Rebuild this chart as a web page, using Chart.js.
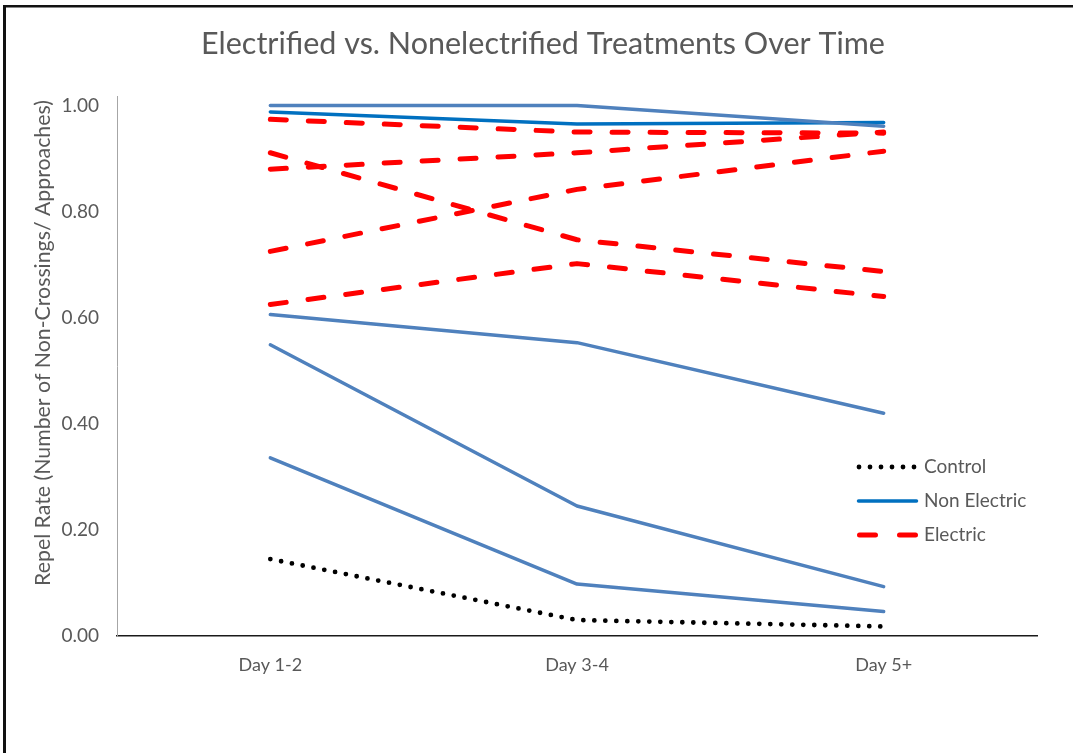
<!DOCTYPE html>
<html>
<head>
<meta charset="utf-8">
<script src="https://cdn.jsdelivr.net/npm/chart.js@4.4.1/dist/chart.umd.min.js"></script>
<style>
  html, body { margin: 0; padding: 0; background: #ffffff; }
  #wrap { position: relative; width: 1073px; height: 753px; }
  canvas { display: block; }
</style>
</head>
<body>
<div id="wrap"><canvas id="c" width="1073" height="753"></canvas></div>
<script>
// Time periods on the x axis
const categories = ['Day 1-2', 'Day 3-4', 'Day 5+'];
// Y tick values
const yTicks = [0, 0.2, 0.4, 0.6, 0.8, 1.0];

// Repel rate per treatment group
const control = [0.145, 0.030, 0.018];
const nonElectricMain = [0.988, 0.965, 0.968];
const nonElectricA = [1.000, 1.000, 0.961];
const nonElectricB = [0.606, 0.553, 0.420];
const nonElectricC = [0.549, 0.245, 0.093];
const nonElectricD = [0.336, 0.098, 0.046];
const electricA = [0.974, 0.950, 0.948];
const electricB = [0.880, 0.911, 0.950];
const electricC = [0.911, 0.747, 0.687];
const electricD = [0.725, 0.842, 0.914];
const electricE = [0.625, 0.702, 0.640];

const legendLabels = ['Control', 'Non Electric', 'Electric'];
const chartTitle = 'Electrified vs. Nonelectrified Treatments Over Time';
const yTitle = 'Repel Rate (Number of Non-Crossings/ Approaches)';

const FONT = 'Lato, "Open Sans", sans-serif';
const TEXT = '#595959';
const BLUE_DARK = '#0070C0';
const BLUE = '#4F81BD';
const RED = '#FF0000';

const styles = {
  control: { borderColor: '#000000', borderWidth: 4.8, borderDash: [0, 11], borderCapStyle: 'round' },
  nonMain: { borderColor: BLUE_DARK, borderWidth: 3.5, borderDash: [], borderCapStyle: 'round' },
  non: { borderColor: BLUE, borderWidth: 3.5, borderDash: [], borderCapStyle: 'round' },
  electric: { borderColor: RED, borderWidth: 5, borderDash: [16, 22], borderCapStyle: 'round' }
};

function series(data, style) {
  return Object.assign({
    data: data,
    fill: false,
    tension: 0,
    pointRadius: 0,
    pointHoverRadius: 0,
    borderJoinStyle: 'round'
  }, style);
}

const datasets = [
  series(nonElectricA, styles.non),
  series(nonElectricB, styles.non),
  series(nonElectricC, styles.non),
  series(nonElectricD, styles.non),
  series(nonElectricMain, styles.nonMain),
  series(electricA, styles.electric),
  series(electricB, styles.electric),
  series(electricC, styles.electric),
  series(electricD, styles.electric),
  series(electricE, styles.electric),
  series(control, styles.control)
];

// White background plus frame lines along the top and left edges
const framePlugin = {
  id: 'frame',
  beforeDraw(chart) {
    const ctx = chart.ctx;
    ctx.save();
    ctx.fillStyle = '#ffffff';
    ctx.fillRect(0, 0, chart.width, chart.height);
    ctx.fillStyle = '#111111';
    ctx.fillRect(3, 5, chart.width - 3, 2.5);
    ctx.fillRect(3, 5, 3, chart.height - 5);
    ctx.restore();
  }
};

// Chart title and rotated y-axis title
const titlesPlugin = {
  id: 'titles',
  afterDraw(chart) {
    const ctx = chart.ctx;
    ctx.save();
    ctx.font = '30.5px ' + FONT;
    ctx.fillStyle = TEXT;
    ctx.textAlign = 'center';
    ctx.textBaseline = 'middle';
    ctx.fillText(chartTitle, 543, 44);

    ctx.translate(43, 343);
    ctx.rotate(-Math.PI / 2);
    ctx.font = '21.3px ' + FONT;
    ctx.fillText(yTitle, 0, 0);
    ctx.restore();
  }
};

// Legend inside the plot area, lower right
const legendPlugin = {
  id: 'insideLegend',
  afterDraw(chart) {
    const ctx = chart.ctx;
    const area = chart.chartArea;
    const x0 = area.right - 180;
    const x1 = x0 + 61;
    const rows = [
      { label: legendLabels[0], style: styles.control, y: area.top + 371 },
      { label: legendLabels[1], style: styles.nonMain, y: area.top + 405 },
      { label: legendLabels[2], style: styles.electric, y: area.top + 439 }
    ];
    ctx.save();
    rows.forEach(r => {
      ctx.beginPath();
      ctx.strokeStyle = r.style.borderColor;
      ctx.lineWidth = r.style.borderWidth;
      ctx.lineCap = r.style.borderCapStyle;
      ctx.setLineDash(r.style.borderDash);
      if (r.style === styles.electric) {
        ctx.setLineDash([]);
        ctx.moveTo(x0 + 2.5, r.y);
        ctx.lineTo(x0 + 18.5, r.y);
        ctx.moveTo(x1 - 18.5, r.y);
        ctx.lineTo(x1 - 2.5, r.y);
      } else if (r.style === styles.control) {
        ctx.moveTo(x0 + 2, r.y);
        ctx.lineTo(x1, r.y);
      } else {
        ctx.moveTo(x0 + 1.5, r.y);
        ctx.lineTo(x1 - 1.5, r.y);
      }
      ctx.stroke();
      ctx.setLineDash([]);
      ctx.font = '19px ' + FONT;
      ctx.fillStyle = TEXT;
      ctx.textAlign = 'left';
      ctx.textBaseline = 'middle';
      ctx.fillText(r.label, x1 + 6, r.y);
    });
    ctx.restore();
  }
};

new Chart(document.getElementById('c'), {
  type: 'line',
  data: { labels: categories, datasets: datasets },
  plugins: [framePlugin, titlesPlugin, legendPlugin],
  options: {
    responsive: false,
    animation: false,
    devicePixelRatio: 1,
    layout: { padding: { top: 96, left: 0, right: 36, bottom: 77 } },
    plugins: {
      legend: { display: false },
      tooltip: { enabled: false },
      title: { display: false }
    },
    scales: {
      x: {
        type: 'category',
        offset: true,
        grid: { display: false, drawTicks: false },
        border: { display: true, color: '#1a1a1a', width: 1.5 },
        ticks: { color: TEXT, font: { family: FONT, size: 18 }, padding: 18, maxRotation: 0 },
        afterFit(scale) { scale.height = 40; }
      },
      y: {
        type: 'linear',
        min: 0,
        max: 1.018,
        grid: { display: false, drawTicks: false },
        border: { display: true, color: '#a6a6a6', width: 1 },
        ticks: {
          color: TEXT,
          font: { family: FONT, size: 19 },
          padding: 18,
          callback: v => Number(v).toFixed(2)
        },
        afterBuildTicks(scale) { scale.ticks = yTicks.map(v => ({ value: v })); },
        afterFit(scale) { scale.width = 117; }
      }
    }
  }
});
</script>
</body>
</html>
